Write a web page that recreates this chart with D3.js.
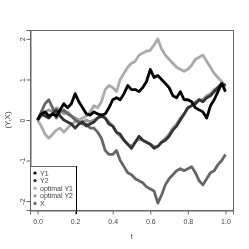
<!DOCTYPE html>
<html>
<head>
<meta charset="utf-8">
<script src="https://cdn.jsdelivr.net/npm/d3@7"></script>
<style>
  body { margin: 0; background: #fff; }
  svg { will-change: transform; }
  text { font-family: "Liberation Sans", Arial, sans-serif; }
</style>
</head>
<body>
<script>
// time grid shared by all series
var tVals = d3.range(0, 51).map(function (i) { return i / 50; });

var y1 = [0, 0.15, 0.2, 0.1, 0.15, 0.1, 0.25, 0.4, 0.3, 0.4,
  0.65, 0.45, 0.3, 0.15, 0.12, 0.2, 0.15, 0.12, 0.15, 0.3,
  0.5, 0.55, 0.5, 0.65, 0.85, 0.75, 0.75, 0.7, 0.8, 0.95,
  1.25, 1.05, 1.1, 1.0, 0.9, 0.8, 0.6, 0.55, 0.7, 0.5,
  0.5, 0.45, 0.3, 0.25, 0.2, 0.05, 0.35, 0.5, 0.7, 0.9, 0.7];

var y2 = [0, 0.15, 0.1, 0.05, 0.15, 0.25, 0.1, 0.0, -0.05, -0.1,
  -0.2, -0.1, -0.05, -0.15, -0.1, -0.05, 0.05, 0.1, 0.05, -0.1,
  -0.15, -0.3, -0.35, -0.5, -0.6, -0.7, -0.55, -0.4, -0.5, -0.55,
  -0.6, -0.7, -0.65, -0.55, -0.5, -0.4, -0.25, -0.15, 0.0, 0.15,
  0.3, 0.35, 0.4, 0.5, 0.45, 0.55, 0.6, 0.7, 0.8, 0.9, 0.85];

var optY1 = [0, -0.15, -0.35, -0.45, -0.35, -0.25, -0.2, -0.3, -0.2, -0.1,
  -0.05, 0.0, 0.05, 0.1, 0.2, 0.35, 0.3, 0.45, 0.75, 0.85,
  0.8, 0.7, 1.0, 1.15, 1.3, 1.4, 1.45, 1.6, 1.65, 1.7,
  1.72, 1.85, 2.0, 1.75, 1.6, 1.5, 1.4, 1.3, 1.25, 1.2,
  1.25, 1.35, 1.5, 1.55, 1.6, 1.45, 1.3, 1.15, 1.05, 0.95, 0.8];

var optY2 = [0, 0.1, 0.2, 0.25, 0.2, 0.3, 0.25, 0.15, 0.2, 0.1,
  0.05, 0.0, -0.05, 0.0, -0.05, 0.0, 0.05, 0.1, 0.05, -0.05,
  -0.15, -0.3, -0.4, -0.5, -0.6, -0.65, -0.55, -0.45, -0.5, -0.55,
  -0.6, -0.65, -0.65, -0.55, -0.45, -0.35, -0.2, -0.1, 0.05, 0.15,
  0.3, 0.35, 0.45, 0.5, 0.5, 0.6, 0.65, 0.75, 0.8, 0.9, 0.85];

var xSer = [0, 0.2, 0.4, 0.5, 0.3, 0.05, 0.2, 0.25, 0.15, 0.1,
  0.0, -0.05, -0.1, -0.1, -0.2, -0.2, -0.3, -0.45, -0.75, -0.85,
  -0.85, -0.75, -1.0, -1.15, -1.3, -1.35, -1.45, -1.5, -1.55, -1.65,
  -1.7, -1.75, -2.05, -1.85, -1.6, -1.45, -1.35, -1.25, -1.2, -1.25,
  -1.2, -1.15, -1.3, -1.5, -1.6, -1.45, -1.3, -1.25, -1.1, -1.0, -0.85];

var seriesNames = ["Y1", "Y2", "optimal Y1", "optimal Y2", "X"];
var seriesColors = ["#000000", "#333333", "#aaaaaa", "#999999", "#666666"];
var seriesData = [y1, y2, optY1, optY2, xSer];
var drawOrder = [3, 2, 4, 1, 0];

var xTicks = [0, 0.2, 0.4, 0.6, 0.8, 1.0];
var yTicks = [-2, -1, 0, 1, 2];

var W = 249, H = 249;
var box = {left: 30, right: 233, top: 30, bottom: 210};

var svg = d3.select("body").append("svg")
  .attr("width", W).attr("height", H);

var xScale = d3.scaleLinear().domain([-0.04, 1.04]).range([box.left, box.right]);
var yScale = d3.scaleLinear().domain([-2.22, 2.22]).range([box.bottom, box.top]);

// lines
var line = d3.line()
  .x(function (d, i) { return xScale(tVals[i]); })
  .y(function (d) { return yScale(d); });

drawOrder.forEach(function (k) {
  svg.append("path")
    .attr("d", line(seriesData[k]))
    .attr("fill", "none")
    .attr("stroke", seriesColors[k])
    .attr("stroke-width", 2.8)
    .attr("stroke-linejoin", "round");
});

// box
svg.append("rect")
  .attr("x", box.left + 0.5).attr("y", box.top + 0.5)
  .attr("width", box.right - box.left).attr("height", box.bottom - box.top)
  .attr("fill", "none").attr("stroke", "#666");

// axes
var xAxis = svg.append("g")
  .attr("transform", "translate(0," + (box.bottom + 0.5) + ")")
  .call(d3.axisBottom(xScale).tickValues(xTicks).tickSize(4).tickPadding(5)
    .tickFormat(d3.format(".1f")));
var yAxis = svg.append("g")
  .attr("transform", "translate(" + (box.left + 0.5) + ",0)")
  .call(d3.axisLeft(yScale).tickValues(yTicks).tickSize(4).tickPadding(5)
    .tickFormat(function (d) { return d; }));

[xAxis, yAxis].forEach(function (a) {
  a.select(".domain").attr("stroke", "#666");
  a.selectAll(".tick line").attr("stroke", "#666");
  a.selectAll(".tick text").attr("fill", "#444").style("font-size", "7px");
});
yAxis.selectAll(".tick text")
  .attr("text-anchor", "middle")
  .attr("transform", "translate(-6,0) rotate(-90)")
  .attr("x", 0).attr("dy", "0");

svg.append("text")
  .attr("x", xScale(0.5)).attr("y", 239)
  .attr("text-anchor", "middle")
  .style("font-size", "8px").attr("fill", "#444")
  .text("t");

svg.append("text")
  .attr("transform", "translate(10," + yScale(0) + ") rotate(-90)")
  .attr("text-anchor", "middle")
  .style("font-size", "8px").attr("fill", "#444")
  .text("(Y,X)");

// legend
var lg = svg.append("g");
lg.append("rect")
  .attr("x", box.left + 0.5).attr("y", 166.5)
  .attr("width", 46).attr("height", box.bottom - 166)
  .attr("fill", "#fff").attr("stroke", "#666");
lg.append("line")
  .attr("x1", 76.5).attr("x2", 76.5).attr("y1", 166).attr("y2", box.bottom + 4)
  .attr("stroke", "#000");

seriesNames.forEach(function (name, i) {
  var yy = 173 + i * 7.6;
  lg.append("circle").attr("cx", 35).attr("cy", yy).attr("r", 1.6)
    .attr("fill", seriesColors[i]);
  lg.append("text").attr("x", 40).attr("y", yy + 2.5)
    .style("font-size", "7px").attr("fill", "#444")
    .text(name);
});
</script>
</body>
</html>
